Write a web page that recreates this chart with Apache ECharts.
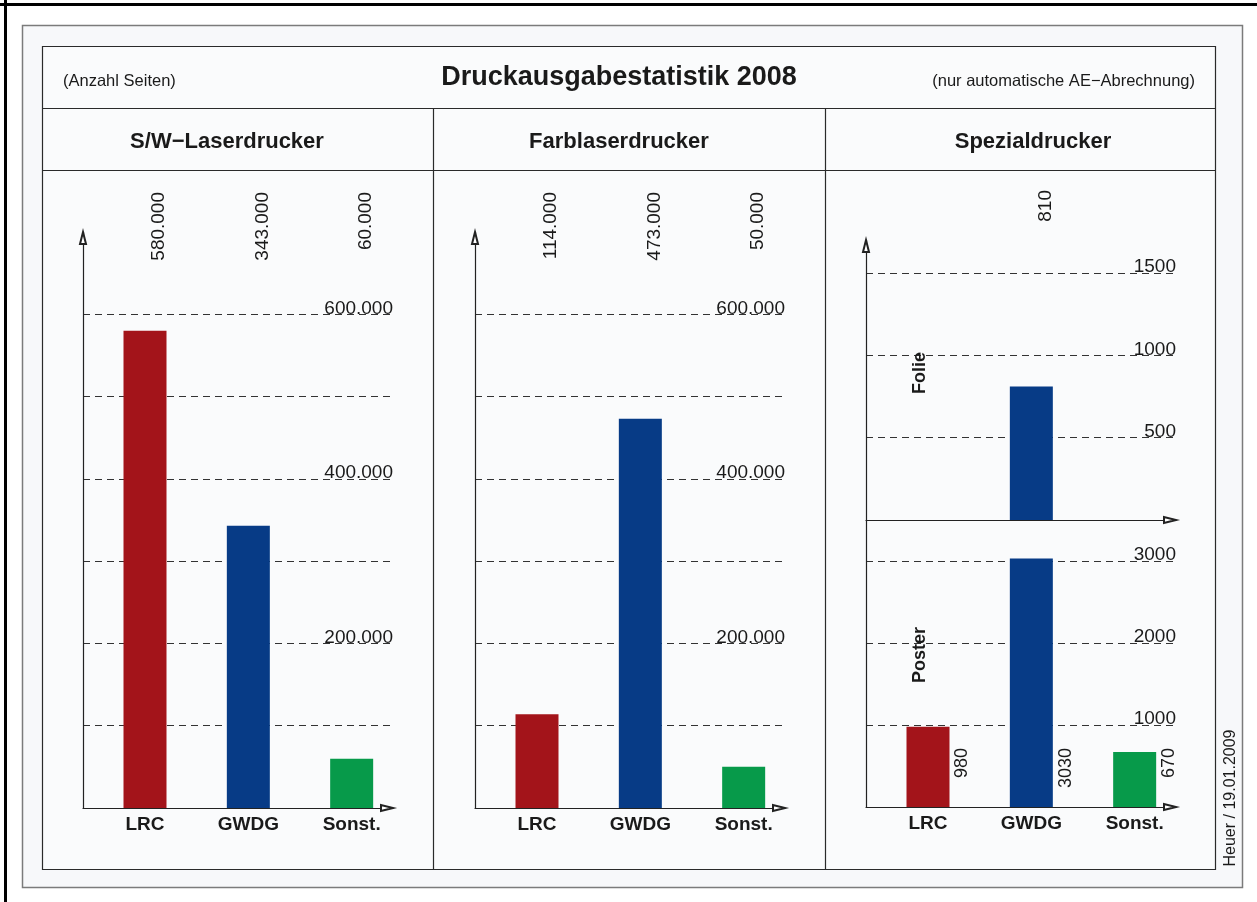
<!DOCTYPE html>
<html>
<head>
<meta charset="utf-8">
<title>Druckausgabestatistik 2008</title>
<script src="https://cdn.jsdelivr.net/npm/echarts@6/dist/echarts.min.js"></script>
<style>
    html, body { margin: 0; padding: 0; background: #fff; }
    #chart { width: 1257px; height: 902px; }
</style>
</head>
<body>
<div id="chart"></div>
<script>
var categories = ['LRC', 'GWDG', 'Sonst.'];
var swValues = [580000, 343000, 60000];     // S/W-Laserdrucker
var farbValues = [114000, 473000, 50000];   // Farblaserdrucker
var folieValues = [null, 810, null];        // Spezialdrucker: Folie
var posterValues = [980, 3030, 670];        // Spezialdrucker: Poster
var seitenTicks = [200000, 400000, 600000];
var folieTicks = [500, 1000, 1500];
var posterTicks = [1000, 2000, 3000];
var barColors = ['#a3141a', '#073b86', '#079a4a'];

var font = '"Liberation Sans", Arial, Helvetica, sans-serif';
var ink = '#1a1a1a';

// 600000 -> 600.000
function punkt(v) {
    return String(v).replace(/\B(?=(\d{3})+(?!\d))/g, '.');
}

var panels = [
    {left: 83, top: 232, height: 576, max: 700000, step: 100000, ticks: seitenTicks, values: swValues, fmt: punkt, cats: true, topLabels: true, topOffset: 38, arrow: true},
    {left: 475, top: 232, height: 576, max: 700000, step: 100000, ticks: seitenTicks, values: farbValues, fmt: punkt, cats: true, topLabels: true, topOffset: 38, arrow: true},
    {left: 866, top: 240, height: 280, max: 1700, step: 500, ticks: folieTicks, values: folieValues, fmt: String, cats: false, topLabels: true, topOffset: 48, arrow: true},
    {left: 866, top: 520, height: 287, max: 3500, step: 1000, ticks: posterTicks, values: posterValues, fmt: String, cats: true, topLabels: false, topOffset: 0, arrow: false, sideLabels: true}
];

var arrowLine = {
    show: true,
    onZero: false,
    symbol: ['none', 'emptyTriangle'],
    symbolSize: [6, 12],
    symbolOffset: [0, -6],
    lineStyle: {color: '#222', width: 1.2}
};

var grids = [], xAxes = [], yAxes = [], series = [];

panels.forEach(function (p, i) {
    var present = [];
    p.values.forEach(function (v, k) { if (v != null) present.push(k); });

    grids.push({left: p.left, top: p.top, width: 310, height: p.height, outerBoundsMode: 'none'});

    xAxes.push({
        gridIndex: i, type: 'value', position: 'bottom', min: -0.6, max: 2.4,
        axisLine: arrowLine,
        axisTick: {show: false},
        splitLine: {show: false},
        axisLabel: {
            show: p.cats, customValues: [0, 1, 2], margin: 7,
            formatter: function (v) { return categories[v]; },
            color: ink, fontFamily: font, fontSize: 19, fontWeight: 'bold'
        }
    });
    // Werte oben, etwas rechts der Balkenmitte
    xAxes.push({
        gridIndex: i, type: 'value', position: 'top', min: -0.736, max: 2.264, offset: p.topOffset,
        axisLine: {show: false},
        axisTick: {show: false},
        splitLine: {show: false},
        axisLabel: {
            show: p.topLabels, customValues: present, rotate: 90, margin: 2,
            align: 'right', verticalAlign: 'middle',
            formatter: function (v) { return p.fmt(p.values[v]); },
            color: ink, fontFamily: font, fontSize: 19
        }
    });

    yAxes.push({
        gridIndex: i, type: 'value', min: 0, max: p.max, interval: p.step,
        axisLine: p.arrow ? arrowLine : {show: true, onZero: false, lineStyle: {color: '#222', width: 1.2}},
        axisTick: {show: false},
        axisLabel: {show: false},
        splitLine: {
            show: true, showMinLine: false, showMaxLine: false,
            lineStyle: {color: '#333', width: 1, type: [7, 5]}
        }
    });
    // Skalenbeschriftung rechts auf den Hilfslinien
    yAxes.push({
        gridIndex: i, type: 'value', position: 'right', min: 0, max: p.max, interval: p.step,
        axisLine: {show: false},
        axisTick: {show: false},
        splitLine: {show: false},
        axisLabel: {
            inside: true, margin: 0, verticalAlign: 'bottom', lineHeight: 12,
            formatter: function (v) { return p.ticks.indexOf(v) >= 0 ? p.fmt(v) : ''; },
            color: ink, fontFamily: font, fontSize: 19
        }
    });

    series.push({
        type: 'bar',
        xAxisIndex: 2 * i,
        yAxisIndex: 2 * i,
        barWidth: 43,
        data: present.map(function (k) { return [k, p.values[k]]; }),
        itemStyle: {
            color: function (d) { return barColors[d.value[0]]; }
        },
        label: {
            show: !!p.sideLabels,
            position: 'insideBottomRight',
            distance: 0,
            rotate: 90,
            align: 'right',
            verticalAlign: 'middle',
            offset: [59, 13],
            formatter: function (d) { return String(d.value[1]); },
            color: ink, fontFamily: font, fontSize: 18
        }
    });
});

function txt(text, x, y, size, weight, align, rot) {
    return {
        type: 'text', x: x, y: y, rotation: rot || 0, z: 5,
        style: {
            text: text, fill: ink,
            font: (weight || 'normal') + ' ' + size + 'px ' + font,
            textAlign: align || 'center', textVerticalAlign: 'middle'
        }
    };
}

function ln(x1, y1, x2, y2, color, w) {
    return {type: 'line', z: -5, shape: {x1: x1, y1: y1, x2: x2, y2: y2}, style: {stroke: color, lineWidth: w}};
}

var graphics = [
    ln(0, 4.5, 1257, 4.5, '#000', 3),
    ln(5.5, 0, 5.5, 902, '#000', 3),
    {type: 'rect', z: -10, shape: {x: 22.5, y: 25.5, width: 1220, height: 862},
        style: {fill: '#f7f8fa', stroke: '#7b7b7b', lineWidth: 1.5}},
    {type: 'rect', z: -9, shape: {x: 42.5, y: 46.5, width: 1173, height: 823},
        style: {fill: '#fafbfc', stroke: '#2a2a2a', lineWidth: 1.2}},
    ln(42.5, 108.5, 1215.5, 108.5, '#2a2a2a', 1.2),
    ln(42.5, 170.5, 1215.5, 170.5, '#2a2a2a', 1.2),
    ln(433.5, 108.5, 433.5, 869.5, '#2a2a2a', 1.2),
    ln(825.5, 108.5, 825.5, 869.5, '#2a2a2a', 1.2),
    txt('(Anzahl Seiten)', 63, 81, 16.5, 'normal', 'left'),
    txt('Druckausgabestatistik 2008', 619, 78, 27, 'bold'),
    txt('(nur automatische AE\u2212Abrechnung)', 1195, 81, 16.5, 'normal', 'right'),
    txt('S/W\u2212Laserdrucker', 227, 142, 22, 'bold'),
    txt('Farblaserdrucker', 619, 142, 22, 'bold'),
    txt('Spezialdrucker', 1033, 142, 22, 'bold'),
    txt('Folie', 920, 373, 18, 'bold', 'center', Math.PI / 2),
    txt('Poster', 920, 655, 18, 'bold', 'center', Math.PI / 2),
    txt('Heuer / 19.01.2009', 1231, 798, 16, 'normal', 'center', Math.PI / 2)
];

var chart = echarts.init(document.getElementById('chart'));
var option = {
    animation: false,
    backgroundColor: '#fff',
    graphic: {elements: graphics},
    grid: grids,
    xAxis: xAxes,
    yAxis: yAxes,
    series: series
};
chart.setOption(option);
</script>
</body>
</html>
